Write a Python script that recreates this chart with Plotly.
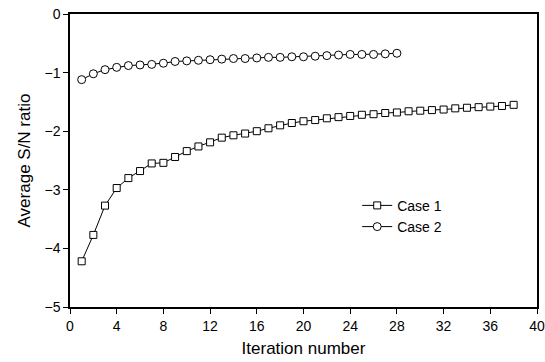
import plotly.graph_objects as go

iter_case1 = list(range(1, 39))
case1 = [-4.22, -3.77, -3.27, -2.97, -2.80, -2.68, -2.55, -2.54, -2.44, -2.34,
         -2.26, -2.19, -2.11, -2.07, -2.04, -2.00, -1.95, -1.90, -1.86, -1.83,
         -1.81, -1.78, -1.76, -1.74, -1.72, -1.71, -1.69, -1.68, -1.66, -1.65,
         -1.64, -1.63, -1.61, -1.60, -1.59, -1.58, -1.57, -1.55]

iter_case2 = list(range(1, 29))
case2 = [-1.12, -1.02, -0.95, -0.91, -0.88, -0.87, -0.86, -0.84, -0.81, -0.80,
         -0.79, -0.78, -0.77, -0.76, -0.76, -0.75, -0.74, -0.74, -0.73, -0.73,
         -0.72, -0.71, -0.70, -0.69, -0.69, -0.69, -0.68, -0.67]

x_ticks = [0, 4, 8, 12, 16, 20, 24, 28, 32, 36, 40]
y_ticks = [0, -1, -2, -3, -4, -5]

font = dict(family="Liberation Sans, Arial, sans-serif", size=14, color="black")

fig = go.Figure()
fig.add_trace(go.Scatter(
    x=iter_case1, y=case1, mode="lines+markers", name="Case 1",
    line=dict(color="black", width=1),
    marker=dict(symbol="square", size=7, color="white", line=dict(color="black", width=1)),
))
fig.add_trace(go.Scatter(
    x=iter_case2, y=case2, mode="lines+markers", name="Case 2",
    line=dict(color="black", width=1),
    marker=dict(symbol="circle", size=8, color="white", line=dict(color="black", width=1)),
))

fig.update_layout(
    width=545, height=362,
    margin=dict(l=70, r=8, t=14, b=55, autoexpand=False),
    paper_bgcolor="white", plot_bgcolor="white",
    font=font,
    showlegend=True,
    legend=dict(x=0.615, y=0.40, xanchor="left", yanchor="top",
                bgcolor="rgba(0,0,0,0)", font=dict(size=14), tracegroupgap=0),
)
fig.update_xaxes(
    range=[0, 40], tickvals=x_ticks, ticks="outside", ticklen=5, tickwidth=1.2,
    tickcolor="black", showline=True, linecolor="black", linewidth=1.5,
    mirror=True, showgrid=False, zeroline=False, automargin=False,
    title=dict(text="Iteration number", standoff=10),
)
fig.update_yaxes(
    range=[-5, 0], tickvals=y_ticks, ticks="outside", ticklen=5, tickwidth=1.2,
    tickcolor="black", showline=True, linecolor="black", linewidth=1.5,
    mirror=True, showgrid=False, zeroline=False, automargin=False,
    title=dict(text="Average S/N ratio", standoff=10),
)

fig.write_html("out.html")
